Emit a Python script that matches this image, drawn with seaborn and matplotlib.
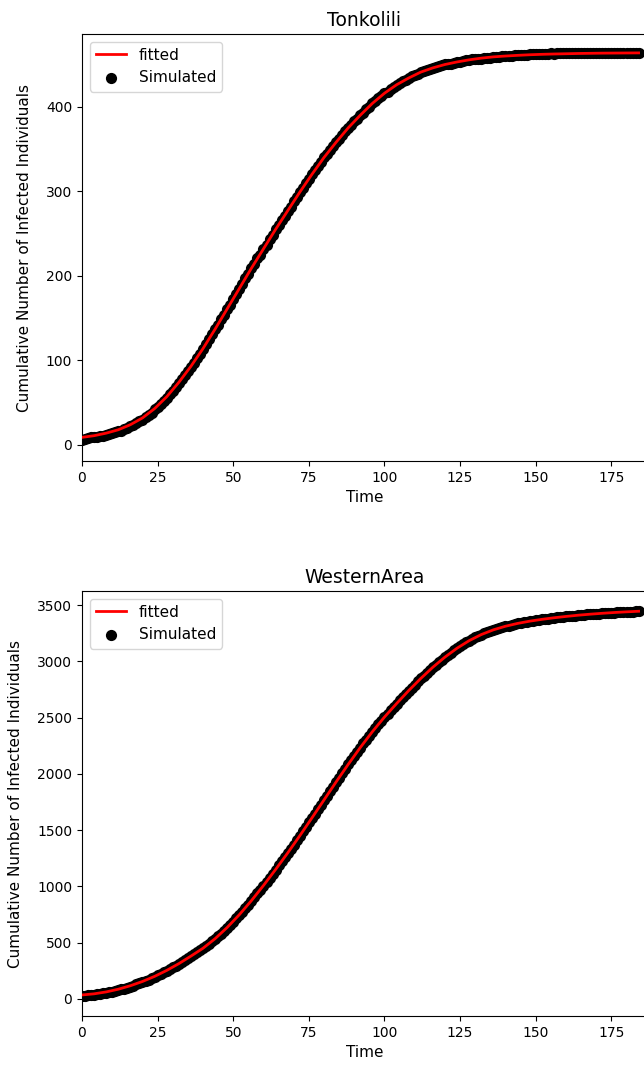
import numpy as np
import matplotlib
matplotlib.use("Agg")
import matplotlib.pyplot as plt
import seaborn as sns

# fitted curves, read every 4 days
fit_days = np.arange(0, 185, 4)
tonk_fit = [9, 11, 14, 18, 24, 32, 43, 57, 74, 93,
            114, 137, 161, 185, 209, 232, 255, 277, 299, 320,
            340, 358, 375, 390, 404, 416, 426, 434, 441, 446,
            450, 453, 455.5, 457.5, 459, 460, 460.8, 461.5, 462, 462.4,
            462.7, 463, 463.2, 463.4, 463.5, 463.6, 463.7]
west_fit = [35, 45, 62, 86, 117, 155, 200, 253, 313, 380,
            450, 535, 635, 748, 873, 1008, 1150, 1297, 1450, 1608,
            1768, 1928, 2084, 2234, 2375, 2505, 2625, 2740, 2848, 2948,
            3038, 3117, 3184, 3238, 3280, 3312, 3337, 3357, 3373, 3387,
            3399, 3410, 3419, 3427, 3434, 3440, 3445]

# simulated counts, one per day
sim_days = np.arange(0, 185)
tonk_sim = [6, 7, 8, 9, 9, 10, 11, 11, 12, 13,
            14, 15, 16, 17, 19, 20, 22, 24, 26, 28,
            30, 33, 36, 38, 42, 45, 49, 52, 56, 60,
            64, 68, 73, 78, 83, 87, 92, 97, 103, 108,
            114, 119, 125, 131, 137, 142, 149, 154, 161, 166,
            173, 178, 185, 190, 197, 202, 209, 214, 221, 225,
            232, 237, 244, 248, 255, 260, 266, 271, 277, 282,
            288, 293, 299, 304, 310, 314, 320, 325, 330, 335,
            340, 344, 349, 353, 358, 362, 367, 371, 375, 378,
            383, 386, 390, 393, 397, 400, 404, 407, 410, 413,
            416, 418, 421, 423, 426, 428, 430, 432, 434, 436,
            437, 439, 441, 442, 444, 445, 446, 447, 448, 449,
            450, 451, 451, 452, 453, 453, 454, 455, 455, 456,
            456, 457, 457, 458, 458, 458, 459, 459, 459, 460,
            460, 460, 460, 461, 461, 461, 461, 461, 462, 462,
            462, 462, 462, 462, 462, 463, 462, 463, 463, 463,
            463, 463, 463, 463, 463, 463, 464, 463, 464, 464,
            464, 464, 464, 464, 464, 464, 464, 464, 464, 464,
            464, 464, 464, 464, 464]
west_sim = [26, 28, 31, 34, 37, 40, 44, 48, 53, 58,
            64, 70, 77, 84, 92, 100, 109, 118, 128, 138,
            149, 160, 172, 184, 196, 209, 223, 237, 251, 265,
            281, 296, 312, 328, 345, 362, 379, 396, 414, 432,
            451, 471, 491, 512, 534, 557, 581, 606, 632, 659,
            687, 716, 746, 776, 807, 838, 870, 903, 937, 971,
            1006, 1041, 1077, 1113, 1149, 1186, 1222, 1259, 1296, 1334,
            1372, 1411, 1450, 1489, 1529, 1568, 1607, 1647, 1687, 1727,
            1767, 1807, 1847, 1887, 1927, 1966, 2006, 2045, 2084, 2122,
            2160, 2197, 2234, 2270, 2305, 2340, 2375, 2408, 2441, 2473,
            2505, 2535, 2565, 2595, 2625, 2654, 2683, 2712, 2740, 2767,
            2794, 2821, 2848, 2873, 2898, 2923, 2948, 2971, 2994, 3016,
            3038, 3058, 3078, 3098, 3117, 3134, 3151, 3168, 3184, 3198,
            3212, 3225, 3238, 3249, 3260, 3270, 3280, 3288, 3296, 3304,
            3312, 3318, 3325, 3331, 3337, 3342, 3347, 3352, 3357, 3361,
            3365, 3369, 3373, 3377, 3380, 3384, 3387, 3390, 3393, 3396,
            3399, 3402, 3405, 3407, 3410, 3412, 3414, 3417, 3419, 3421,
            3423, 3425, 3427, 3429, 3430, 3432, 3434, 3435, 3437, 3438,
            3440, 3441, 3442, 3444, 3445]

districts = ["Tonkolili", "WesternArea"]
fits = [tonk_fit, west_fit]
sims = [tonk_sim, west_sim]
ylims = [(-19, 486), (-152, 3625)]

fig = plt.figure(figsize=(6.44, 10.67), dpi=100)
boxes = [[0.1273, 0.5679, 0.877, 0.4002], [0.1273, 0.0478, 0.877, 0.3983]]

for name, fit, sim, yl, box in zip(districts, fits, sims, ylims, boxes):
    ax = fig.add_axes(box)
    sns.lineplot(x=fit_days, y=fit, color="red", linewidth=2, label="fitted",
                 zorder=3, ax=ax)
    sns.scatterplot(x=sim_days, y=sim, color="black", s=65, linewidth=0,
                    label="Simulated", zorder=2, ax=ax)
    ax.set_xlim(0, 186.7)
    ax.set_ylim(*yl)
    ax.set_xticks(np.arange(0, 176, 25))
    ax.set_title(name, fontsize=13.5)
    ax.set_xlabel("Time", fontsize=11)
    ax.set_ylabel("Cumulative Number of Infected Individuals", fontsize=11,
                  labelpad=10)
    ax.legend(loc="upper left", fontsize=11)

fig.savefig("out.png", dpi=100)
